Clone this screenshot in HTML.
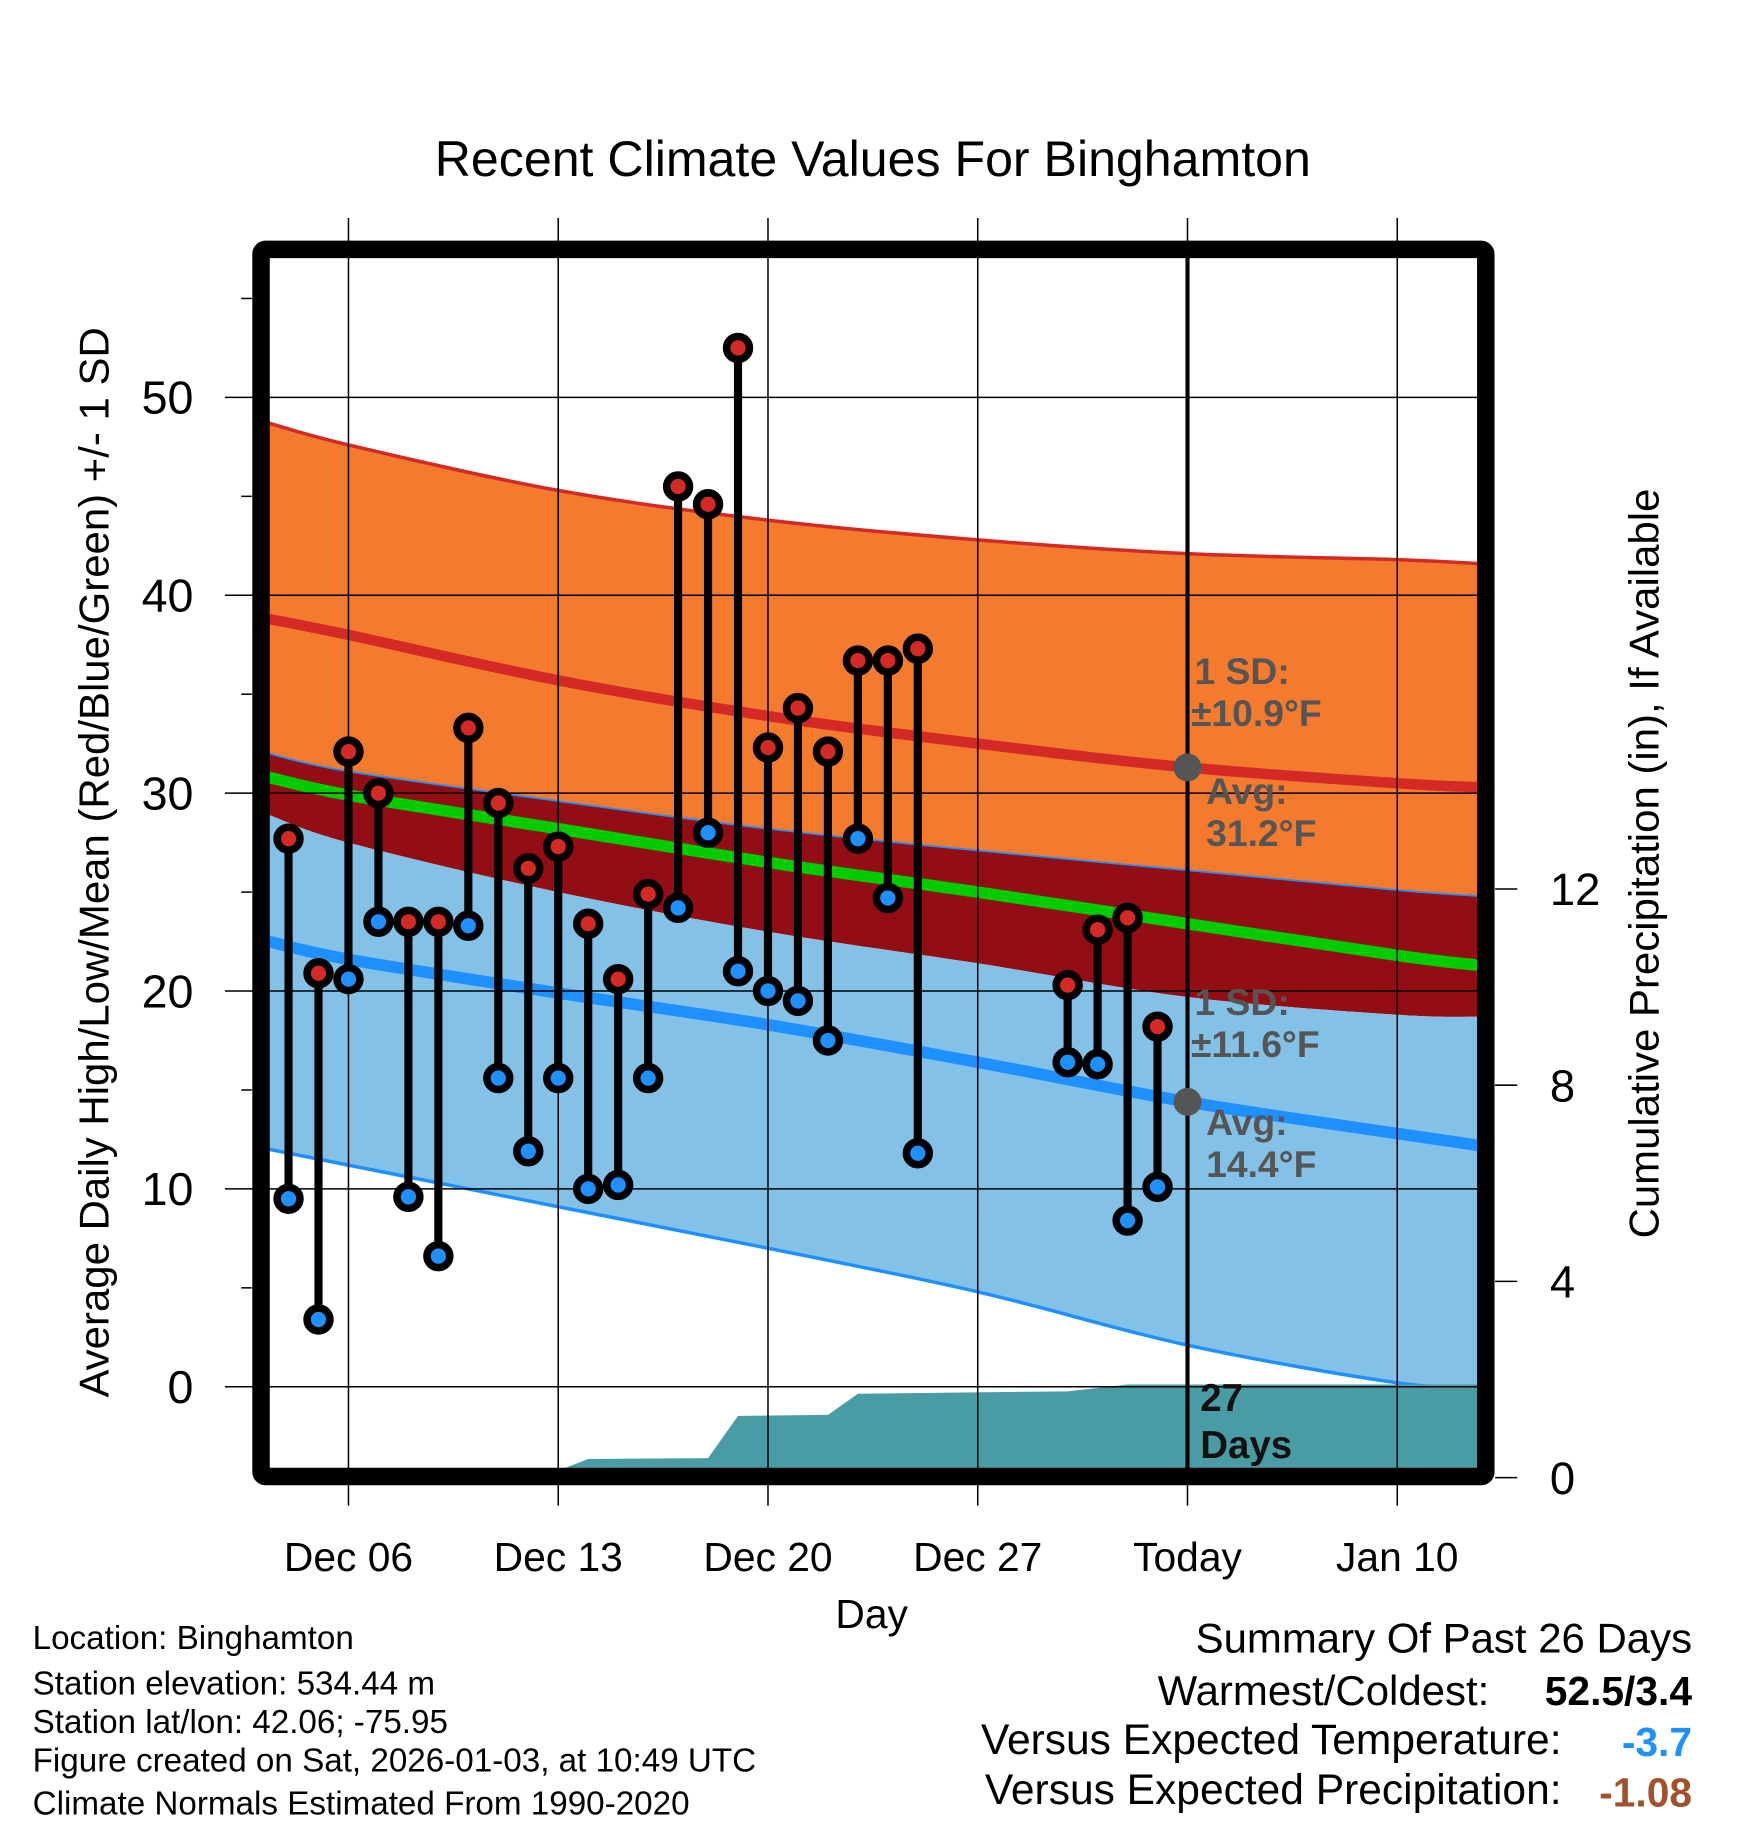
<!DOCTYPE html>
<html><head><meta charset="utf-8">
<style>
html,body{margin:0;padding:0;background:#fff;}
svg{display:block;font-family:"Liberation Sans",Arial,sans-serif;}
</style></head>
<body>
<svg id="chart" width="1748" height="1828" viewBox="0 0 1500 1568.6" xmlns="http://www.w3.org/2000/svg">
<rect x="0" y="0" width="1500" height="1569" fill="#fff"/>
<g id="bands"></g>
<g id="precip"></g>
<g id="grid"></g>
<g id="bars"></g>
<g id="annot"></g>
<g id="frame"></g>
<g id="texts"></g>
</svg>
<script>
// ---- data ----
const obsDays = [0,1,2,3,4,5,6,7,8,9,10,11,12,13,14,15,16,17,18,19,20,21,26,27,28,29]; // days after Dec 04
const highs = [27.7,20.9,32.1,30.0,23.5,23.5,33.3,29.5,26.2,27.3,23.4,20.6,24.9,45.5,44.6,52.5,32.3,34.3,32.1,36.7,36.7,37.3,20.3,23.1,23.7,18.2];
const lows  = [9.5,3.4,20.6,23.5,9.6,6.6,23.3,15.6,11.9,15.6,10.0,10.2,15.6,24.2,28.0,21.0,20.0,19.5,17.5,27.7,24.7,11.8,16.4,16.3,8.4,10.1];
const normDays = [-0.65,2,9,16,23,30,37,39.7]; // days after Dec 04
const hiPlusSD = [48.7,47.6,45.3,43.8,42.8,42.1,41.8,41.6];
const hiAvg    = [38.8,38.0,35.7,33.9,32.5,31.3,30.5,30.3];
const hiMinusSD= [32.0,31.1,29.6,28.2,27.1,26.1,25.1,24.8];
const meanT    = [30.8,29.9,28.2,26.5,25.0,23.4,21.8,21.3];
const loPlusSD = [28.9,27.5,25.0,23.0,21.4,19.7,18.8,18.7];
const loAvg    = [22.5,21.6,19.9,18.3,16.4,14.4,12.8,12.2];
const loMinusSD= [12.0,11.2,9.1,7.0,4.8,2.1,0.2,0.0];
const precipDays = [-0.65,8.4,10.0,14.0,15.0,18.0,19.0,26.0,28.0,39.7];
const precipVals = [0,0,0.38,0.4,1.26,1.28,1.71,1.76,1.9,1.9];
const xTickDays = [2,9,16,23,30,37];
const xTickLabels = ["Dec 06","Dec 13","Dec 20","Dec 27","Today","Jan 10"];
const yTicks = [0,10,20,30,40,50];
const pTicks = [0,4,8,12];

// ---- axes ----
const X0=231,X1=1268,Y0=221,Y1=1260;
const xs = d => 247.6 + d*25.714;
const ys = v => 1190 - v*16.98;
const ps = v => 1268 - v*42.1;
const NS="http://www.w3.org/2000/svg";
function mk(tag,attrs,parent){const e=document.createElementNS(NS,tag);for(const k in attrs)e.setAttribute(k,attrs[k]);parent.appendChild(e);return e;}
const g=id=>document.getElementById(id);

function pts(arr){return normDays.map((d,i)=>[xs(d),ys(arr[i])]);}
function smooth(p){ // catmull-rom to bezier
  let s='';
  for(let i=0;i<p.length-1;i++){
    const p0=p[i-1]||p[i],p1=p[i],p2=p[i+1],p3=p[i+2]||p2;
    const c1=[p1[0]+(p2[0]-p0[0])/6,p1[1]+(p2[1]-p0[1])/6];
    const c2=[p2[0]-(p3[0]-p1[0])/6,p2[1]-(p3[1]-p1[1])/6];
    s+=` C${c1[0].toFixed(1)},${c1[1].toFixed(1)} ${c2[0].toFixed(1)},${c2[1].toFixed(1)} ${p2[0].toFixed(1)},${p2[1].toFixed(1)}`;
  }
  return s;
}
function curve(arr){const p=pts(arr);return `M${p[0][0].toFixed(1)},${p[0][1].toFixed(1)}`+smooth(p);}
function band(top,bot,fill,name){
  const pb=pts(bot).reverse();
  const d=curve(top)+` L${pb[0][0].toFixed(1)},${pb[0][1].toFixed(1)}`+smooth(pb)+' Z';
  const p=mk('path',{d:d,fill:fill},g('bands'));
  
  
}
band(hiPlusSD,hiMinusSD,'#f47a2e','high-sd-band');
band(hiMinusSD,loPlusSD,'#930d14','overlap-band');
band(loPlusSD,loMinusSD,'#84c1e7','low-sd-band');
function pl(arr,color,w,name){
  const p=mk('path',{d:curve(arr),fill:'none',stroke:color,'stroke-width':w},g('bands'));
  
  
}
pl(hiPlusSD,'#d42a26',3,'high-plus-sd-line');
pl(hiAvg,'#d42a26',9,'avg-high-line');
pl(hiMinusSD,'#1e90ff',1.5,'high-minus-sd-line');
pl(meanT,'#00cc00',10,'mean-temp-line');
pl(loAvg,'#1e90ff',10,'avg-low-line');
pl(loMinusSD,'#1e90ff',3,'low-minus-sd-line');

// precip
{
  let pp=precipDays.map((d,i)=>`${xs(d).toFixed(1)},${ps(precipVals[i]).toFixed(1)}`);
  pp.push(`${xs(precipDays[precipDays.length-1]).toFixed(1)},1268`);
  pp.push(`${xs(precipDays[0]).toFixed(1)},1268`);
  const p=mk('polygon',{points:pp.join(' '),fill:'#4a9ca4'},g('precip'));
  
  
}

// grid
xTickDays.forEach((d,i)=>{
  const x=xs(d);
  const l=mk('line',{x1:x,x2:x,y1:187,y2:1292,stroke:'#000','stroke-width':1.3},g('grid'));
  
  
  const t=mk('text',{x:x,y:1348,'font-size':35,'text-anchor':'middle'},g('texts'));
  t.textContent=xTickLabels[i];
  
  
});
yTicks.forEach(v=>{
  const y=ys(v);
  const l=mk('line',{x1:193,x2:X1,y1:y,y2:y,stroke:'#000','stroke-width':1.3},g('grid'));
  
  
  const t=mk('text',{x:166,y:y+14,'font-size':40,'text-anchor':'end'},g('texts'));
  t.textContent=v;
  
  
});
[5,15,25,35,45,55].forEach(v=>{
  const l=mk('line',{x1:207,x2:216,y1:ys(v),y2:ys(v),stroke:'#000','stroke-width':1.3},g('grid'));
  
  
});
pTicks.forEach(v=>{
  const y=ps(v);
  const l=mk('line',{x1:1283,x2:1302,y1:y,y2:y,stroke:'#000','stroke-width':1.3},g('grid'));
  
  
  const t=mk('text',{x:1330,y:y+14,'font-size':39,'text-anchor':'start'},g('texts'));
  t.textContent=v;
  
  
});

// today line
{
  const x=xs(30);
  const l=mk('line',{x1:x,x2:x,y1:Y0,y2:Y1,stroke:'#000','stroke-width':3.5},g('annot'));
  
  
}

// bars
obsDays.forEach((d,i)=>{
  const x=xs(d);
  const l=mk('line',{x1:x,x2:x,y1:ys(highs[i]),y2:ys(lows[i]),stroke:'#000','stroke-width':7},g('bars'));
  
  
  const c1=mk('circle',{cx:x,cy:ys(highs[i]),r:9.8,fill:'#d42a26',stroke:'#000','stroke-width':6.5},g('bars'));
  
  
  const c2=mk('circle',{cx:x,cy:ys(lows[i]),r:9.8,fill:'#1e90ff',stroke:'#000','stroke-width':6.5},g('bars'));
  
  
});

// annotations
{
  const x=xs(30);
  const hi=hiAvg[5], lo=loAvg[5];
  [[hi,'avg-high-marker'],[lo,'avg-low-marker']].forEach(([v,n])=>{
    const c=mk('circle',{cx:x,cy:ys(v),r:12,fill:'#555'},g('annot'));
    
    
  });
  const lab=[["1 SD:",1025,587],["\u00B110.9\u00B0F",1022,623],["Avg:",1035,690],["31.2\u00B0F",1035,726],
             ["1 SD:",1025,871],["\u00B111.6\u00B0F",1022,907],["Avg:",1035,974],["14.4\u00B0F",1035,1010]];
  lab.forEach(([s,xx,yy])=>{
    const t=mk('text',{x:xx,y:yy,'font-size':32,'font-weight':'bold',fill:'#555'},g('annot'));
    t.textContent=s;
    
    
  });
  [["27",1030,1211],["Days",1030,1251]].forEach(([s,xx,yy])=>{
    const t=mk('text',{x:xx,y:yy,'font-size':33,'font-weight':'bold',fill:'#111'},g('annot'));
    t.textContent=s;
    
    
  });
}

// frame
{
  const r=mk('rect',{x:224,y:214,width:1051,height:1053,rx:4,fill:'none',stroke:'#000','stroke-width':15},g('frame'));
  
  
}

// texts
function txt(s,attrs,name){const t=mk('text',attrs,g('texts'));t.textContent=s;return t;}
txt('Recent Climate Values For Binghamton',{x:749,y:151,'font-size':43,'text-anchor':'middle'},'chart-title');
txt('Average Daily High/Low/Mean (Red/Blue/Green) +/- 1 SD',{x:0,y:0,'font-size':36,'text-anchor':'middle',transform:'translate(93,740) rotate(-90)'},'y-axis-title');
txt('Cumulative Precipitation (in), If Available',{x:0,y:0,'font-size':36,'text-anchor':'middle',transform:'translate(1423,741) rotate(-90)'},'right-axis-title');
txt('Day',{x:748,y:1397,'font-size':35,'text-anchor':'middle'},'x-axis-title');
[['Location: Binghamton',1415],['Station elevation: 534.44 m',1454],['Station lat/lon: 42.06; -75.95',1487],['Figure created on Sat, 2026-01-03, at 10:49 UTC',1520],['Climate Normals Estimated From 1990-2020',1557]].forEach(([s,y])=>{
  txt(s,{x:28,y:y,'font-size':28.5},'station-info');
});
txt('Summary Of Past 26 Days',{x:1452,y:1418,'font-size':36,'text-anchor':'end'},'summary-title');
txt('Warmest/Coldest:',{x:1278,y:1463,'font-size':36,'text-anchor':'end'},'summary-label');
txt('52.5/3.4',{x:1452,y:1463,'font-size':35,'font-weight':'bold','text-anchor':'end'},'warmest-coldest-value');
txt('Versus Expected Temperature:',{x:1340,y:1505,'font-size':36.5,'text-anchor':'end'},'summary-label');
txt('-3.7',{x:1452,y:1507,'font-size':35,'font-weight':'bold','text-anchor':'end',fill:'#1e90ff'},'temp-departure-value');
txt('Versus Expected Precipitation:',{x:1340,y:1548,'font-size':36.5,'text-anchor':'end'},'summary-label');
txt('-1.08',{x:1452,y:1550,'font-size':35,'font-weight':'bold','text-anchor':'end',fill:'#a0522d'},'precip-departure-value');
</script>
</body></html>
